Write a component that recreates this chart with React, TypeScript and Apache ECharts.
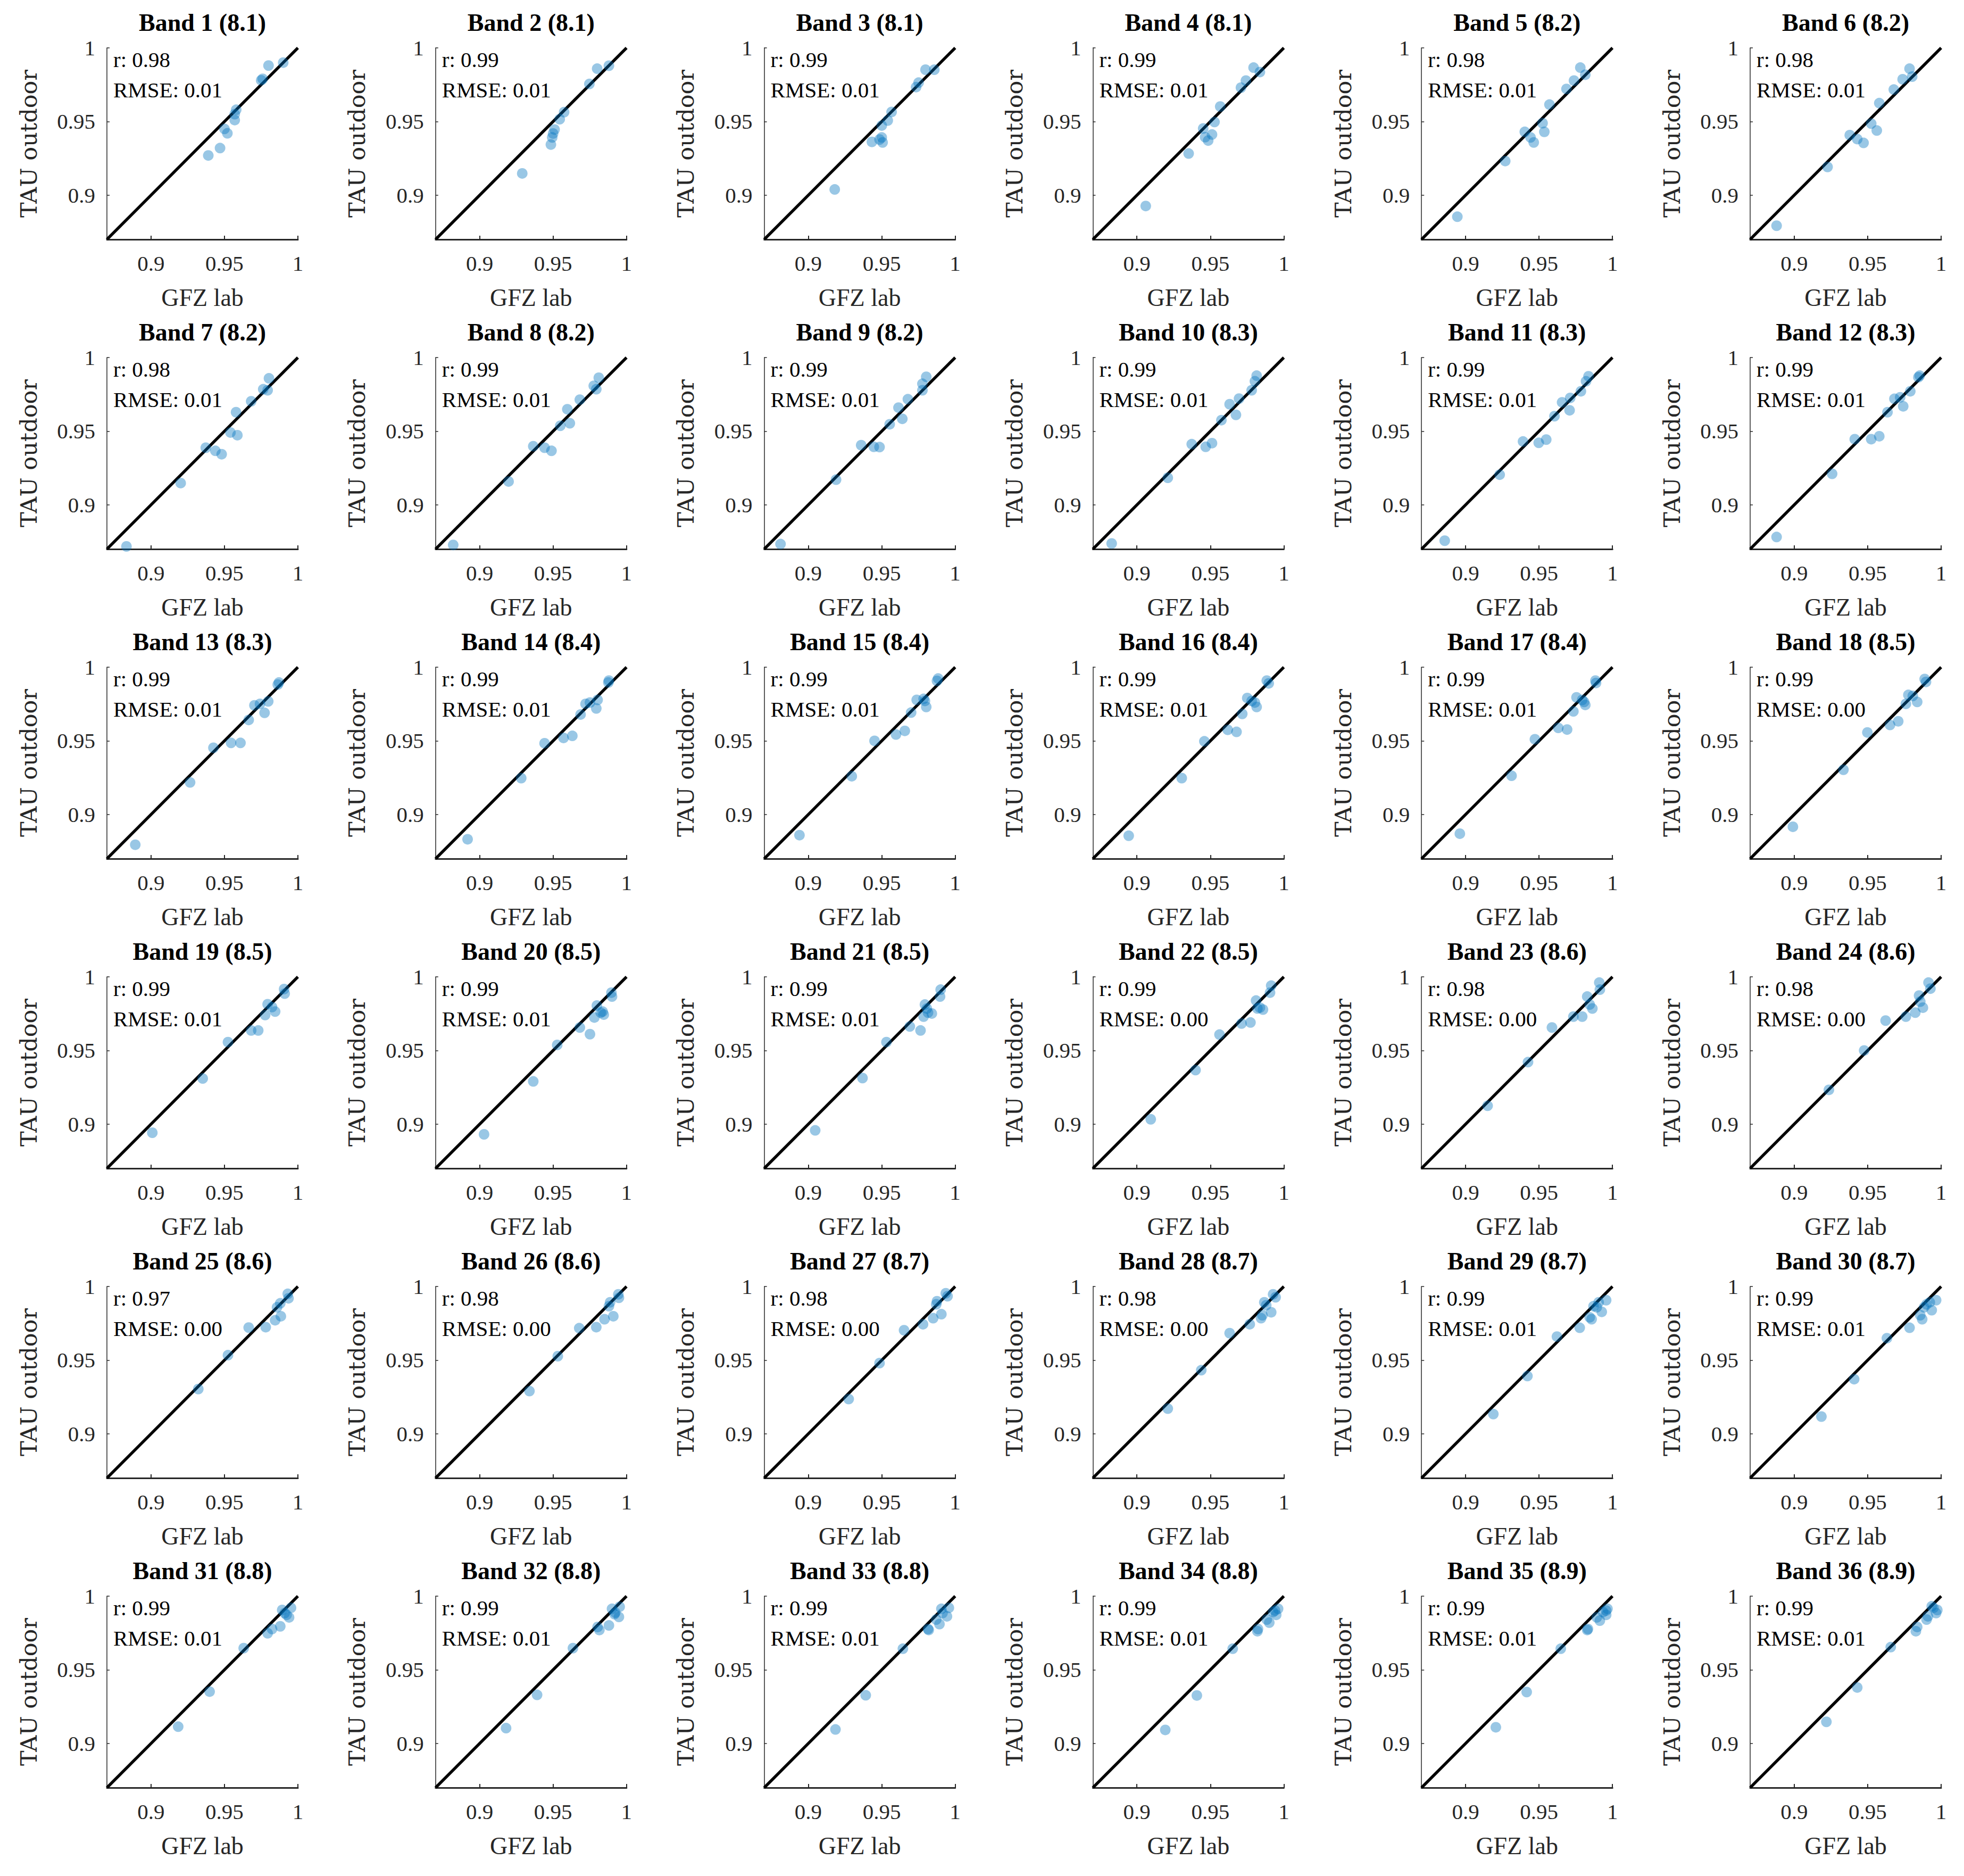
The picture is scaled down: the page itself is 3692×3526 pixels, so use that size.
import React, { useEffect, useRef } from "react";
import * as echarts from "echarts";

// ---------- data ----------
const wavelengths = [
  "8.1", "8.1", "8.1", "8.1", "8.2", "8.2",
  "8.2", "8.2", "8.2", "8.3", "8.3", "8.3",
  "8.3", "8.4", "8.4", "8.4", "8.4", "8.5",
  "8.5", "8.5", "8.5", "8.5", "8.6", "8.6",
  "8.6", "8.6", "8.7", "8.7", "8.7", "8.7",
  "8.8", "8.8", "8.8", "8.8", "8.9", "8.9",
];
const rValues = [
  "0.98", "0.99", "0.99", "0.99", "0.98", "0.98",
  "0.98", "0.99", "0.99", "0.99", "0.99", "0.99",
  "0.99", "0.99", "0.99", "0.99", "0.99", "0.99",
  "0.99", "0.99", "0.99", "0.99", "0.98", "0.98",
  "0.97", "0.98", "0.98", "0.98", "0.99", "0.99",
  "0.99", "0.99", "0.99", "0.99", "0.99", "0.99",
];
const rmseValues = [
  "0.01", "0.01", "0.01", "0.01", "0.01", "0.01",
  "0.01", "0.01", "0.01", "0.01", "0.01", "0.01",
  "0.01", "0.01", "0.01", "0.01", "0.01", "0.00",
  "0.01", "0.01", "0.01", "0.00", "0.00", "0.00",
  "0.00", "0.00", "0.00", "0.00", "0.01", "0.01",
  "0.01", "0.01", "0.01", "0.01", "0.01", "0.01",
];

const gfzLab: number[][] = [
  [0.939, 0.947, 0.950, 0.952, 0.957, 0.957, 0.958, 0.975, 0.976, 0.980, 0.990],
  [0.929, 0.9485, 0.9494, 0.950, 0.951, 0.9545, 0.9575, 0.9747, 0.980, 0.988],
  [0.918, 0.9433, 0.9485, 0.950, 0.9506, 0.950, 0.9541, 0.9567, 0.9734, 0.9751, 0.9798, 0.9858],
  [0.906, 0.9352, 0.9451, 0.9464, 0.9485, 0.9511, 0.9528, 0.9567, 0.9708, 0.9742, 0.9794, 0.9837],
  [0.8944, 0.927, 0.9403, 0.9442, 0.9464, 0.9524, 0.9536, 0.9571, 0.9687, 0.9738, 0.9781, 0.9815],
  [0.888, 0.9227, 0.9378, 0.9429, 0.9472, 0.9524, 0.9562, 0.9579, 0.9678, 0.9738, 0.9785, 0.9803],
  [0.8833, 0.9202, 0.9373, 0.9438, 0.9481, 0.9541, 0.9588, 0.9579, 0.9682, 0.9764, 0.9794, 0.9803],
  [0.882, 0.9197, 0.9365, 0.9442, 0.9489, 0.9549, 0.9614, 0.9597, 0.9682, 0.9777, 0.9794, 0.9811],
  [0.8811, 0.9189, 0.936, 0.9446, 0.9485, 0.9554, 0.964, 0.9614, 0.9678, 0.9777, 0.9777, 0.9803],
  [0.8828, 0.921, 0.9373, 0.9468, 0.9511, 0.9575, 0.9674, 0.9631, 0.9695, 0.9781, 0.9803, 0.9815],
  [0.8858, 0.9232, 0.9391, 0.9498, 0.9549, 0.9605, 0.9708, 0.9657, 0.9712, 0.9785, 0.982, 0.9837],
  [0.888, 0.9258, 0.9412, 0.9524, 0.9579, 0.9635, 0.9682, 0.9721, 0.9742, 0.979, 0.9845, 0.9854],
  [0.8893, 0.9266, 0.9425, 0.9545, 0.9609, 0.9665, 0.9704, 0.9742, 0.9773, 0.9798, 0.9863, 0.9871],
  [0.8918, 0.9283, 0.9442, 0.9571, 0.9631, 0.9687, 0.9721, 0.9751, 0.9794, 0.9803, 0.9876, 0.988],
  [0.894, 0.9296, 0.9451, 0.9597, 0.9657, 0.970, 0.9738, 0.9785, 0.9803, 0.9794, 0.9876, 0.9884],
  [0.8944, 0.9305, 0.9459, 0.9618, 0.9678, 0.9717, 0.9751, 0.9781, 0.9815, 0.9803, 0.9884, 0.9897],
  [0.8961, 0.9313, 0.9472, 0.9631, 0.9691, 0.9734, 0.9755, 0.9794, 0.9815, 0.9807, 0.9884, 0.9888],
  [0.8991, 0.9335, 0.9498, 0.9652, 0.9708, 0.976, 0.9777, 0.9807, 0.9837, 0.9888, 0.9897],
  [0.9009, 0.9352, 0.9524, 0.9682, 0.973, 0.9777, 0.9794, 0.9824, 0.9845, 0.9906, 0.991],
  [0.903, 0.9365, 0.9528, 0.9682, 0.9751, 0.9781, 0.9798, 0.9824, 0.9845, 0.9837, 0.9897, 0.9901],
  [0.9047, 0.9369, 0.9532, 0.9691, 0.9764, 0.9785, 0.9794, 0.9815, 0.9841, 0.9807, 0.9897, 0.9901],
  [0.9094, 0.9399, 0.9562, 0.9712, 0.9773, 0.9811, 0.982, 0.9858, 0.9837, 0.9906, 0.9914],
  [0.915, 0.9425, 0.9588, 0.9734, 0.9794, 0.9828, 0.9845, 0.9863, 0.9914, 0.991],
  [0.9236, 0.9476, 0.9622, 0.976, 0.9824, 0.985, 0.9858, 0.9876, 0.9927, 0.9914],
  [0.9322, 0.9524, 0.9665, 0.9781, 0.9845, 0.9884, 0.9858, 0.988, 0.9936, 0.9931],
  [0.9339, 0.9532, 0.9678, 0.9794, 0.985, 0.991, 0.988, 0.9888, 0.9948, 0.9944],
  [0.9275, 0.9485, 0.9652, 0.9781, 0.985, 0.9906, 0.9871, 0.9876, 0.9948, 0.9936],
  [0.921, 0.9438, 0.9631, 0.9768, 0.9845, 0.9914, 0.9854, 0.9867, 0.988, 0.9944, 0.9927],
  [0.9189, 0.9421, 0.9622, 0.9777, 0.9858, 0.9845, 0.9927, 0.9871, 0.9893, 0.9906, 0.9957],
  [0.9185, 0.9408, 0.9631, 0.9785, 0.9871, 0.9858, 0.9936, 0.9884, 0.9901, 0.9966, 0.9923],
  [0.9185, 0.9399, 0.9631, 0.9794, 0.9824, 0.988, 0.994, 0.991, 0.9893, 0.9953, 0.9923],
  [0.918, 0.9391, 0.9635, 0.9815, 0.9803, 0.988, 0.9948, 0.9918, 0.9901, 0.9953, 0.9923],
  [0.9185, 0.9391, 0.9644, 0.982, 0.9815, 0.9893, 0.9871, 0.9944, 0.9914, 0.9957, 0.9906],
  [0.9193, 0.9408, 0.9652, 0.982, 0.9824, 0.9901, 0.9884, 0.9948, 0.9927, 0.9961, 0.994],
  [0.9206, 0.9416, 0.9648, 0.9828, 0.9833, 0.9914, 0.9893, 0.9957, 0.9936, 0.9966, 0.9957],
  [0.9219, 0.9429, 0.9657, 0.9828, 0.9837, 0.9901, 0.991, 0.9966, 0.9948, 0.9936, 0.9974],
];

const tauOutdoor: number[][] = [
  [0.927, 0.932, 0.945, 0.942, 0.951, 0.955, 0.958, 0.978, 0.979, 0.988, 0.990],
  [0.9148, 0.9344, 0.9392, 0.9419, 0.9446, 0.9516, 0.9564, 0.9755, 0.9859, 0.9879],
  [0.9039, 0.9362, 0.9378, 0.9392, 0.9358, 0.9473, 0.9507, 0.9565, 0.9734, 0.9764, 0.9852, 0.9852],
  [0.8927, 0.9283, 0.9453, 0.9394, 0.9371, 0.9412, 0.9497, 0.9602, 0.973, 0.9778, 0.9866, 0.9836],
  [0.8854, 0.9232, 0.943, 0.9392, 0.9358, 0.9489, 0.943, 0.9615, 0.9721, 0.9778, 0.9866, 0.9818],
  [0.8793, 0.9192, 0.9408, 0.9381, 0.9355, 0.9486, 0.9439, 0.9625, 0.9717, 0.9787, 0.9859, 0.9805],
  [0.8718, 0.9148, 0.9388, 0.9367, 0.9344, 0.9491, 0.9473, 0.9629, 0.9703, 0.9785, 0.9778, 0.9859],
  [0.8728, 0.9159, 0.9398, 0.9388, 0.9367, 0.9537, 0.9554, 0.9649, 0.9714, 0.9808, 0.9785, 0.9863],
  [0.8734, 0.9171, 0.9405, 0.9394, 0.9392, 0.9547, 0.9584, 0.966, 0.9717, 0.9778, 0.9822, 0.9869],
  [0.8738, 0.9184, 0.9412, 0.9394, 0.9419, 0.9575, 0.9611, 0.9683, 0.9721, 0.9778, 0.9839, 0.9877],
  [0.8757, 0.9205, 0.943, 0.9421, 0.9443, 0.9602, 0.9642, 0.9696, 0.9726, 0.9771, 0.9839, 0.9873],
  [0.8782, 0.9211, 0.9446, 0.9446, 0.9466, 0.9629, 0.972, 0.973, 0.9669, 0.9771, 0.9866, 0.9877],
  [0.8795, 0.9218, 0.9453, 0.9486, 0.9486, 0.9642, 0.9741, 0.9751, 0.969, 0.9768, 0.9882, 0.9896],
  [0.8832, 0.9247, 0.9484, 0.952, 0.9534, 0.9679, 0.9751, 0.976, 0.972, 0.9778, 0.9896, 0.9909],
  [0.886, 0.926, 0.950, 0.9543, 0.9568, 0.9692, 0.9778, 0.9785, 0.973, 0.9771, 0.9907, 0.9923],
  [0.8856, 0.9247, 0.9497, 0.9575, 0.9561, 0.9683, 0.9791, 0.9771, 0.973, 0.976, 0.9909, 0.989],
  [0.887, 0.9263, 0.9511, 0.9588, 0.9577, 0.970, 0.9795, 0.9778, 0.9744, 0.9764, 0.9909, 0.9893],
  [0.8917, 0.9304, 0.9557, 0.9608, 0.9633, 0.9751, 0.9812, 0.9805, 0.9764, 0.992, 0.990],
  [0.8942, 0.931, 0.9557, 0.9636, 0.9636, 0.9741, 0.9814, 0.9795, 0.9764, 0.9917, 0.9886],
  [0.8931, 0.929, 0.9538, 0.9656, 0.9611, 0.9724, 0.9805, 0.9757, 0.9744, 0.9764, 0.9893, 0.9866],
  [0.8958, 0.9313, 0.9557, 0.9663, 0.9636, 0.973, 0.9812, 0.9757, 0.9751, 0.9785, 0.9866, 0.9913],
  [0.9033, 0.9367, 0.9608, 0.9683, 0.969, 0.9839, 0.9785, 0.9778, 0.9791, 0.9893, 0.994],
  [0.9125, 0.9421, 0.9656, 0.973, 0.973, 0.9866, 0.9812, 0.9785, 0.9913, 0.9961],
  [0.9233, 0.950, 0.9703, 0.973, 0.9757, 0.9873, 0.9832, 0.9791, 0.992, 0.9961],
  [0.9304, 0.9534, 0.9721, 0.9724, 0.9771, 0.9798, 0.9859, 0.9886, 0.992, 0.995],
  [0.929, 0.9527, 0.9717, 0.9724, 0.9778, 0.9798, 0.9866, 0.9893, 0.9923, 0.9947],
  [0.9236, 0.948, 0.9703, 0.9744, 0.9785, 0.9812, 0.9879, 0.990, 0.9934, 0.9954],
  [0.9171, 0.9432, 0.9683, 0.9744, 0.9785, 0.9825, 0.9805, 0.9893, 0.9873, 0.9927, 0.9947],
  [0.9134, 0.9392, 0.966, 0.972, 0.9778, 0.9791, 0.9828, 0.9866, 0.9859, 0.9893, 0.9907],
  [0.9117, 0.9371, 0.9649, 0.972, 0.9778, 0.9805, 0.9839, 0.9859, 0.9879, 0.9907, 0.9893],
  [0.9114, 0.9352, 0.9647, 0.9748, 0.9777, 0.9795, 0.9856, 0.9885, 0.9906, 0.9921, 0.9873],
  [0.9104, 0.933, 0.9647, 0.977, 0.9791, 0.9801, 0.9859, 0.9878, 0.9914, 0.9928, 0.9888],
  [0.9095, 0.9327, 0.9643, 0.977, 0.9777, 0.981, 0.9841, 0.9863, 0.9885, 0.9921, 0.9914],
  [0.9092, 0.9326, 0.9643, 0.9762, 0.9777, 0.982, 0.9841, 0.9873, 0.9892, 0.9914, 0.9902],
  [0.911, 0.9349, 0.9643, 0.977, 0.9777, 0.9834, 0.9856, 0.9873, 0.9892, 0.9914, 0.9902],
  [0.9147, 0.938, 0.9654, 0.9762, 0.9791, 0.9841, 0.9863, 0.9885, 0.9921, 0.9931, 0.9906],
];

const tickValues = [0.9, 0.95, 1];
const axisMin = 0.87;
const axisMax = 1;

// ---------- layout ----------
const W = 3692;
const H = 3526;
const COLS = 6;
const LEFT0 = 201;
const COL_STEP = 617.8;
const TOP0 = 90;
const ROW_STEP = 582;
const PW = 359;
const PH = 360;

const SERIF = '"Liberation Serif", "Times New Roman", serif';
const TXT = "#262626";

function fmt(v: number): string {
  return v === 1 ? "1" : String(Number(v.toFixed(2)));
}

function buildOption() {
  const grid: any[] = [];
  const xAxis: any[] = [];
  const yAxis: any[] = [];
  const series: any[] = [];
  const graphic: any[] = [];

  for (let k = 0; k < gfzLab.length; k++) {
    const c = k % COLS;
    const r = Math.floor(k / COLS);
    const left = LEFT0 + c * COL_STEP;
    const top = TOP0 + r * ROW_STEP;
    grid.push({ left, top, width: PW, height: PH, containLabel: false });

    xAxis.push({
      type: "value",
      gridIndex: k,
      min: axisMin,
      max: axisMax,
      name: "GFZ lab",
      nameLocation: "middle",
      nameGap: 86,
      nameTextStyle: { fontFamily: SERIF, fontSize: 46, color: TXT },
      axisLine: { show: true, onZero: false, lineStyle: { color: TXT, width: 3 } },
      axisTick: {
        show: true,
        inside: true,
        length: 7,
        customValues: tickValues,
        lineStyle: { color: TXT, width: 2 },
      },
      axisLabel: {
        show: true,
        customValues: tickValues,
        formatter: fmt,
        margin: 24,
        fontFamily: SERIF,
        fontSize: 41,
        color: TXT,
      },
      splitLine: { show: false },
    });

    yAxis.push({
      type: "value",
      gridIndex: k,
      min: axisMin,
      max: axisMax,
      name: "TAU outdoor",
      nameLocation: "middle",
      nameGap: 126,
      nameTextStyle: { fontFamily: '"DejaVu Serif", serif', fontSize: 43, color: TXT },
      axisLine: { show: true, onZero: false, lineStyle: { color: TXT, width: 1.5 } },
      axisTick: {
        show: true,
        inside: true,
        length: 5,
        customValues: tickValues,
        lineStyle: { color: TXT, width: 1.5 },
      },
      axisLabel: {
        show: true,
        customValues: tickValues,
        formatter: fmt,
        margin: 22,
        fontFamily: SERIF,
        fontSize: 41,
        color: TXT,
      },
      splitLine: { show: false },
    });

    series.push({
      type: "line",
      xAxisIndex: k,
      yAxisIndex: k,
      data: [
        [axisMin, axisMin],
        [axisMax, axisMax],
      ],
      symbol: "none",
      silent: true,
      lineStyle: { color: "#000", width: 5.5 },
      z: 2,
    });

    series.push({
      type: "scatter",
      xAxisIndex: k,
      yAxisIndex: k,
      data: gfzLab[k].map((x, i) => [x, tauOutdoor[k][i]]),
      symbol: "circle",
      symbolSize: 20,
      itemStyle: { color: "#0072BD", opacity: 0.4 },
      z: 3,
    });

    graphic.push({
      type: "text",
      x: left + PW / 2,
      y: top - 48,
      style: {
        text: `Band ${k + 1} (${wavelengths[k]})`,
        fontFamily: SERIF,
        fontSize: 46,
        fontWeight: "bold",
        fill: "#000",
        align: "center",
        verticalAlign: "middle",
        textAlign: "center",
        textVerticalAlign: "middle",
      },
    });
    graphic.push({
      type: "text",
      x: left + 12,
      y: top + 22,
      style: {
        text: `r: ${rValues[k]}`,
        fontFamily: SERIF,
        fontSize: 41,
        fill: "#000",
        align: "left",
        verticalAlign: "middle",
        textAlign: "left",
        textVerticalAlign: "middle",
      },
    });
    graphic.push({
      type: "text",
      x: left + 12,
      y: top + 79,
      style: {
        text: `RMSE: ${rmseValues[k]}`,
        fontFamily: SERIF,
        fontSize: 41,
        fill: "#000",
        align: "left",
        verticalAlign: "middle",
        textAlign: "left",
        textVerticalAlign: "middle",
      },
    });
  }

  return {
    animation: false,
    backgroundColor: "#ffffff",
    grid,
    xAxis,
    yAxis,
    series,
    graphic,
  };
}

export default function App() {
  const ref = useRef<HTMLDivElement>(null);

  useEffect(() => {
    document.body.style.margin = "0";
    if (!ref.current) return;
    const chart = echarts.init(ref.current, undefined, { renderer: "svg" });
    chart.setOption(buildOption() as any);
    return () => {
      chart.dispose();
    };
  }, []);

  return <div ref={ref} style={{ width: W, height: H, background: "#fff" }} />;
}
